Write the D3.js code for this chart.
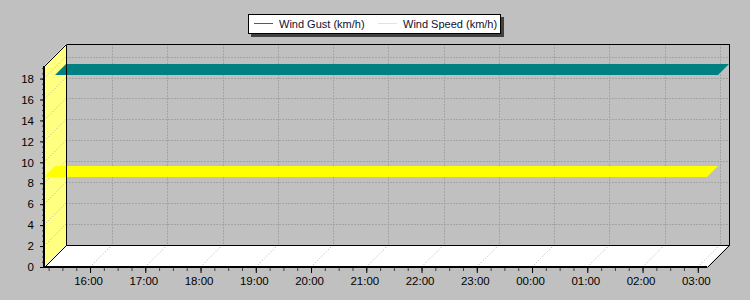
<!DOCTYPE html>
<html>
<head>
<meta charset="utf-8">
<script src="https://cdn.jsdelivr.net/npm/d3@7"></script>
<style>
  body { margin: 0; background: #c0c0c0; }
  svg { display: block; font-family: Arial, "Liberation Sans", sans-serif; }
  .grid { stroke: #a4a4a4; stroke-dasharray: 2,1; fill: none; }
  .diag { stroke: #b0b0b0; stroke-dasharray: 1,2; fill: none; }
  .edge { stroke: #000; fill: none; shape-rendering: crispEdges; }
</style>
</head>
<body>
<svg id="chart" width="750" height="300"></svg>
<script>
// readings (constant over the window)
var times = [
  '2024-01-01T15:10', '2024-01-01T16:10', '2024-01-01T17:10', '2024-01-01T18:10',
  '2024-01-01T19:10', '2024-01-01T20:10', '2024-01-01T21:10', '2024-01-01T22:10',
  '2024-01-01T23:10', '2024-01-02T00:10', '2024-01-02T01:10', '2024-01-02T02:10',
  '2024-01-02T03:10'
];
var windGust  = [17.3, 17.3, 17.3, 17.3, 17.3, 17.3, 17.3, 17.3, 17.3, 17.3, 17.3, 17.3, 17.3];
var windSpeed = [8.6, 8.6, 8.6, 8.6, 8.6, 8.6, 8.6, 8.6, 8.6, 8.6, 8.6, 8.6, 8.6];
var yTicks = [0, 2, 4, 6, 8, 10, 12, 14, 16, 18];
var seriesNames = ['Wind Gust (km/h)', 'Wind Speed (km/h)'];
var seriesColors = ['#008080', '#ffff00'];

var DEPTH = 22,
    LEFT = 44, RIGHT = 707, TOP = 66, BOTTOM = 267;

var parse = d3.timeParse('%Y-%m-%dT%H:%M'),
    dates = times.map(parse);

var x = d3.scaleTime()
      .domain(d3.extent(dates))
      .range([LEFT, RIGHT]),
    y = d3.scaleLinear()
      .domain([0, 19.2])
      .range([BOTTOM, TOP]);

var svg = d3.select('#chart');

var hours = x.ticks(d3.timeHour.every(1)),
    quarters = x.ticks(d3.timeMinute.every(15));

/** back wall grid **/
var back = svg.append('g');
back.selectAll('.h').data(yTicks.slice(1)).enter().append('line')
  .attr('class', 'grid')
  .attr('x1', LEFT + DEPTH).attr('x2', RIGHT + DEPTH)
  .attr('y1', function(d) { return Math.round(y(d)) - DEPTH + 0.5; })
  .attr('y2', function(d) { return Math.round(y(d)) - DEPTH + 0.5; });
back.selectAll('.v').data(hours).enter().append('line')
  .attr('class', 'grid')
  .attr('x1', function(d) { return Math.round(x(d)) + DEPTH + 0.5; })
  .attr('x2', function(d) { return Math.round(x(d)) + DEPTH + 0.5; })
  .attr('y1', TOP - DEPTH).attr('y2', BOTTOM - DEPTH);

/** left wall **/
svg.append('path')
  .attr('d', d3.line()([[LEFT, BOTTOM], [LEFT + DEPTH, BOTTOM - DEPTH], [LEFT + DEPTH, TOP - DEPTH], [LEFT, TOP]]) + 'Z')
  .attr('fill', '#ffff80');
svg.selectAll('.wd').data(yTicks.slice(1)).enter().append('line')
  .attr('class', 'diag')
  .attr('stroke', '#c8c890')
  .attr('x1', LEFT).attr('x2', LEFT + DEPTH)
  .attr('y1', function(d) { return y(d); })
  .attr('y2', function(d) { return y(d) - DEPTH; });

/** floor **/
svg.append('path')
  .attr('d', d3.line()([[LEFT, BOTTOM], [RIGHT, BOTTOM], [RIGHT + DEPTH, BOTTOM - DEPTH], [LEFT + DEPTH, BOTTOM - DEPTH]]) + 'Z')
  .attr('fill', '#ffffff');
svg.selectAll('.fd').data(hours).enter().append('line')
  .attr('class', 'diag')
  .attr('x1', function(d) { return x(d); })
  .attr('x2', function(d) { return x(d) + DEPTH; })
  .attr('y1', BOTTOM).attr('y2', BOTTOM - DEPTH);

/** ribbons: gust in the back half, speed in the front half **/
var ribbon = function(values, z0, z1) {
  var front = dates.map(function(d, i) { return [x(d) + z0, y(values[i]) - z0]; }),
      rear = dates.map(function(d, i) { return [x(d) + z1, y(values[i]) - z1]; }).reverse();
  return d3.line()(front.concat(rear)) + 'Z';
};

svg.append('path')
  .attr('d', ribbon(windGust, DEPTH / 2, DEPTH))
  .attr('fill', seriesColors[0]);
svg.append('path')
  .attr('d', ribbon(windSpeed, 0, DEPTH / 2))
  .attr('fill', seriesColors[1]);

/** outlines **/
var edges = [
  [[LEFT, TOP], [LEFT + DEPTH, TOP - DEPTH]],
  [[LEFT + DEPTH, TOP - DEPTH], [RIGHT + DEPTH, TOP - DEPTH]],
  [[RIGHT + DEPTH, TOP - DEPTH], [RIGHT + DEPTH, BOTTOM - DEPTH]],
  [[LEFT + DEPTH, TOP - DEPTH], [LEFT + DEPTH, BOTTOM - DEPTH]],
  [[LEFT + DEPTH, BOTTOM - DEPTH], [RIGHT + DEPTH, BOTTOM - DEPTH]],
  [[LEFT, BOTTOM], [LEFT + DEPTH, BOTTOM - DEPTH]],
  [[RIGHT, BOTTOM], [RIGHT + DEPTH, BOTTOM - DEPTH]]
];
svg.selectAll('.edge').data(edges).enter().append('path')
  .attr('class', function(d, i) { return i === 5 || i === 6 || i === 0 ? '' : 'edge'; })
  .attr('stroke', '#000').attr('fill', 'none')
  .attr('d', function(d) {
    return d3.line()(d.map(function(p) { return [Math.round(p[0]) + 0.5, Math.round(p[1]) + 0.5]; }));
  });

/** y axis **/
var yMinor = svg.append('g')
  .attr('transform', 'translate(' + LEFT + ',0)')
  .call(d3.axisLeft(y).tickValues(d3.range(0, 19.1, 0.5)).tickSize(2).tickFormat(''));
yMinor.select('.domain').remove();
yMinor.selectAll('line').attr('stroke', '#404040');

var yAxis = svg.append('g')
  .attr('transform', 'translate(' + LEFT + ',0)')
  .call(d3.axisLeft(y).tickValues(yTicks).tickSize(4).tickPadding(6));
yAxis.select('.domain').remove();
yAxis.selectAll('text').attr('font-size', 11.5).attr('font-family', 'Arial, "Liberation Sans", sans-serif').attr('fill', '#000');

svg.append('line')
  .attr('x1', LEFT).attr('x2', LEFT)
  .attr('y1', TOP).attr('y2', BOTTOM + 1)
  .attr('stroke', '#000').attr('stroke-width', 2);

/** x axis **/
var xMinor = svg.append('g')
  .attr('transform', 'translate(0,' + (BOTTOM + 1) + ')')
  .call(d3.axisBottom(x).tickValues(quarters).tickSize(3).tickFormat(''));
xMinor.select('.domain').remove();
xMinor.selectAll('line').attr('stroke', '#404040');

var xAxis = svg.append('g')
  .attr('transform', 'translate(0,' + (BOTTOM + 1) + ')')
  .call(d3.axisBottom(x).tickValues(hours).tickSize(5).tickPadding(4).tickFormat(d3.timeFormat('%H:%M')));
xAxis.select('.domain').remove();
xAxis.selectAll('text')
  .attr('dx', -2)
  .attr('font-size', 11.5).attr('font-family', 'Arial, "Liberation Sans", sans-serif').attr('fill', '#000');

svg.append('line')
  .attr('x1', LEFT).attr('x2', RIGHT)
  .attr('y1', BOTTOM).attr('y2', BOTTOM)
  .attr('stroke', '#000').attr('stroke-width', 2);

/** legend **/
var legend = svg.append('g').attr('transform', 'translate(248,14)');
legend.append('rect')
  .attr('x', 3).attr('y', 3).attr('width', 253).attr('height', 20)
  .attr('fill', '#404040');
legend.append('rect')
  .attr('x', 0.5).attr('y', 0.5).attr('width', 252).attr('height', 19)
  .attr('fill', '#fff').attr('stroke', '#000');

var items = legend.selectAll('.item').data(seriesNames).enter().append('g')
  .attr('transform', function(d, i) { return 'translate(' + [6, 130][i] + ',0)'; });
items.append('line')
  .attr('x1', 0).attr('x2', 19).attr('y1', 9.5).attr('y2', 9.5)
  .attr('stroke', function(d, i) { return seriesColors[i]; });
items.append('text')
  .attr('x', 25).attr('y', 14)
  .attr('font-size', 11)
  .attr('fill', '#101030')
  .text(function(d) { return d; });
</script>
</body>
</html>
